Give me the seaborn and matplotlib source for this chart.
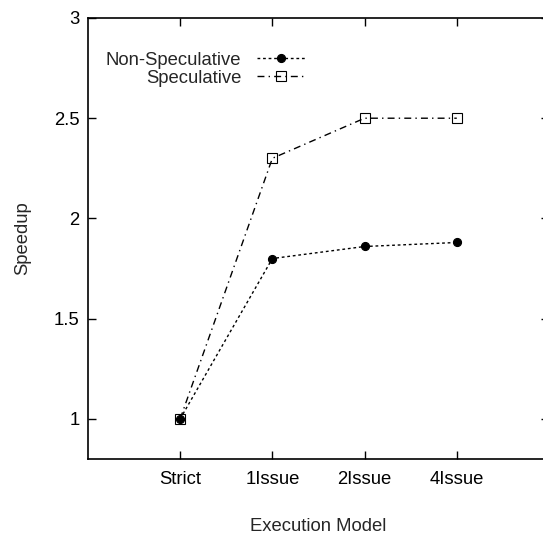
import matplotlib
matplotlib.use('Agg')
from matplotlib import pyplot as plt
import seaborn as sns


MODELS = ['Strict', '1Issue', '2Issue', '4Issue']
NON_SPECULATIVE = [1.0, 1.8, 1.86, 1.88]
SPECULATIVE = [1.0, 2.3, 2.5, 2.5]
Y_TICKS = [1, 1.5, 2, 2.5, 3]
Y_TICK_LABELS = ['1', '1.5', '2', '2.5', '3']

FONT_SIZE = 13.3

sns.set_style('ticks')
plt.rcParams['font.family'] = ['Liberation Sans', 'DejaVu Sans']
plt.rcParams['font.size'] = FONT_SIZE

fig = plt.figure(figsize=(5.43, 5.37), dpi=100)
# the right border of the frame falls just off the picture, as in the original
ax = fig.add_axes([0.162, 0.1453, 0.849, 0.8212])

# Series
sns.lineplot(x=MODELS, y=NON_SPECULATIVE, ax=ax, color='black', lw=1,
             linestyle=(0, (2, 2)), marker='o', markersize=5.8,
             markerfacecolor='black', markeredgecolor='black', markeredgewidth=0.8,
             label='Non-Speculative')
sns.lineplot(x=MODELS, y=SPECULATIVE, ax=ax, color='black', lw=1,
             linestyle=(0, (5, 3, 1, 3)), marker='s', markersize=6.5,
             markerfacecolor='none', markeredgecolor='black', markeredgewidth=0.8,
             label='Speculative')

ax.set_xlim(-1, 4)
ax.set_ylim(0.8, 3)
ax.set_yticks(Y_TICKS)
ax.set_yticklabels(Y_TICK_LABELS)

ax.tick_params(direction='in', length=5.5, width=1, top=True, right=True,
               colors='black', labelsize=FONT_SIZE)
ax.tick_params(axis='x', pad=9)
ax.tick_params(axis='y', pad=6)
for spine in ax.spines.values():
    spine.set_linewidth(1.2)
    spine.set_color('black')

ax.set_xlabel('Execution Model', fontsize=FONT_SIZE, labelpad=21)
ax.set_ylabel('Speedup', fontsize=FONT_SIZE, labelpad=16)

# Legend: text on the left, sample on the right
handles, labels = ax.get_legend_handles_labels()
ax.legend(handles, labels, loc='upper left', bbox_to_anchor=(0.039, 0.923),
          markerfirst=False, frameon=False, borderpad=0, borderaxespad=0,
          handlelength=2.6, handletextpad=0.85, labelspacing=0.05,
          fontsize=FONT_SIZE)

fig.savefig('out.png', dpi=100)
